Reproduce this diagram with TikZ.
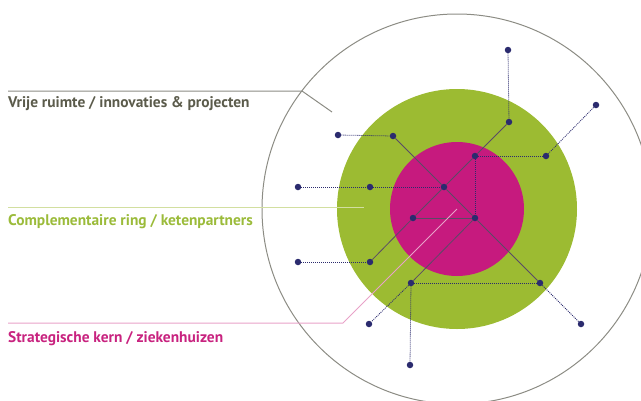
\documentclass[tikz,border=0pt]{standalone}
\usepackage{fontspec}
\setmainfont{PT Sans}
\usetikzlibrary{calc}
\definecolor{ringgreen}{HTML}{9CBB32}
\definecolor{coremagenta}{HTML}{C61A7E}
\definecolor{dotnavy}{HTML}{2B2B6E}
\definecolor{linkgray}{HTML}{5A4A66}
\definecolor{outergray}{HTML}{8C8C84}
\definecolor{textgray}{HTML}{5B5B4B}
\definecolor{textgreen}{HTML}{9BBB3A}
\definecolor{textmagenta}{HTML}{C8237F}
\definecolor{leadgreen}{HTML}{D2DFA0}
\definecolor{leadpink}{HTML}{E8A2C8}

\begin{document}
\begin{tikzpicture}[
        x=1pt, y=-1pt,
        % STYLES
        dot/.style = {circle, fill=dotnavy, inner sep=0pt, minimum size=6.5pt},
        link/.style = {draw, line width=0.8pt, color=linkgray},
        dotlink/.style = {draw, line width=0.8pt, color=dotnavy, dash pattern=on 1pt off 1pt},
        ringlabel/.style = {anchor=base west, inner sep=0pt, font=\bfseries\fontsize{15.4}{18}\selectfont},
        leader/.style = {draw, line width=1pt}
    ]
    \useasboundingbox (0,0) rectangle (641,400);

    % --- RINGS ---
    \coordinate (center) at (457,209);
    \draw [outergray, line width=1pt] (center) circle [radius=195pt];
    \fill [ringgreen] (center) circle [radius=120pt];
    \fill [coremagenta] (center) circle [radius=67pt];

    % --- NODES ---
    % Core
    \node [dot] (k1) at (444,187) {};
    \node [dot] (k2) at (475,156) {};
    \node [dot] (k3) at (413,218) {};
    \node [dot] (k4) at (475,218) {};
    % Ring
    \node [dot] (r1) at (393,136) {};
    \node [dot] (r2) at (509,122) {};
    \node [dot] (r3) at (546,156) {};
    \node [dot] (r4) at (370,187) {};
    \node [dot] (r5) at (370,262) {};
    \node [dot] (r6) at (411,283) {};
    \node [dot] (r7) at (540,283) {};
    % Outer space
    \node [dot] (v1) at (508,50) {};
    \node [dot] (v2) at (596,105) {};
    \node [dot] (v3) at (338,135) {};
    \node [dot] (v4) at (298,187) {};
    \node [dot] (v5) at (298,262) {};
    \node [dot] (v6) at (369,324) {};
    \node [dot] (v7) at (581,324) {};
    \node [dot] (v8) at (410,365) {};

    % --- PATHS ---
    \path [link] (r1) -- (k1) -- (k4) -- (r7);
    \path [link] (r2) -- (k2) -- (k1) -- (k3) -- (r5);
    \path [link] (k3) -- (k4);
    \path [link] (k4) -- (r6);

    \path [dotlink] (v3) -- (r1);
    \path [dotlink] (v1) -- (r2);
    \path [dotlink] (v2) -- (r3);
    \path [dotlink] (k2) -- (r3);
    \path [dotlink] (k2) -- (k4);
    \path [dotlink] (v4) -- (r4);
    \path [dotlink] (r4) -- (k1);
    \path [dotlink] (v5) -- (r5);
    \path [dotlink] (r6) -- (r7);
    \path [dotlink] (r6) -- (v8);
    \path [dotlink] (r6) -- (v6);
    \path [dotlink] (r7) -- (v7);

    % --- LABELS ---
    \node [ringlabel, textgray] (vrije) at (8,107) {Vrije ruimte / innovaties \& projecten};
    \node [ringlabel, textgreen] (complementair) at (8,225) {Complementaire ring / ketenpartners};
    \node [ringlabel, textmagenta] (strategisch) at (8,342) {Strategische kern / ziekenhuizen};

    \coordinate (vrije_start) at (8,91);
    \coordinate (vrije_bend) at (302,91);
    \coordinate (vrije_end) at (332,112);
    \coordinate (compl_start) at (8,207);
    \coordinate (compl_end) at (364,207);
    \coordinate (strat_start) at (8,323);
    \coordinate (strat_bend) at (343,323);

    \path [leader, outergray] (vrije_start) -- (vrije_bend) -- (vrije_end);
    \path [leader, leadgreen] (compl_start) -- (compl_end);
    \path [leader, leadpink] (strat_start) -- (strat_bend) -- (center);

\end{tikzpicture}
\end{document}
